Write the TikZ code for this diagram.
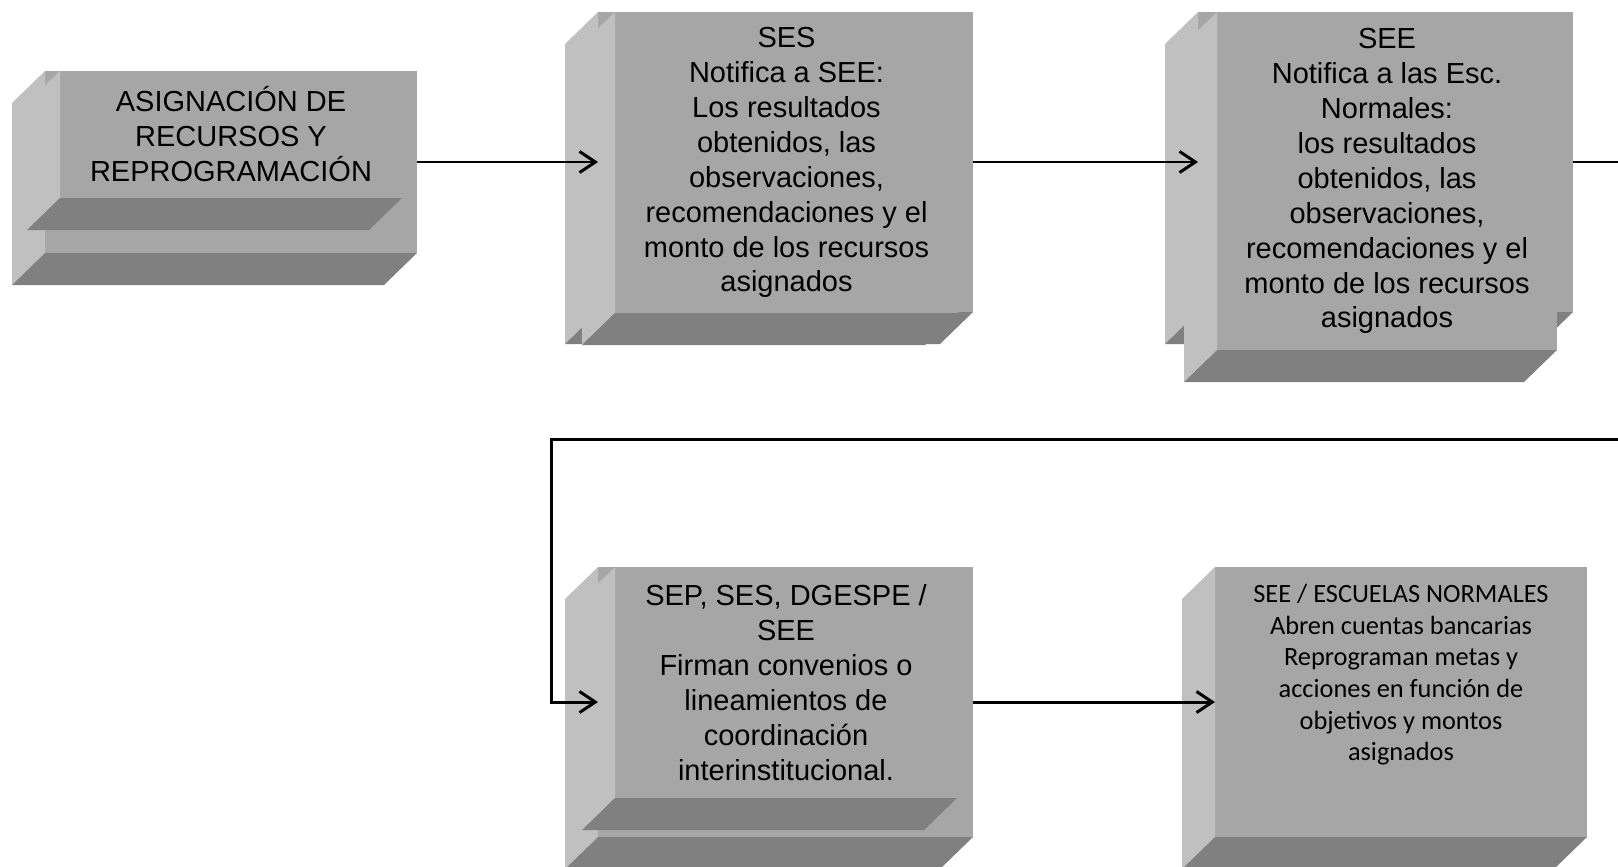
\documentclass[tikz,border=0pt]{standalone}
\usepackage{fontspec}
\setmainfont{Liberation Sans}
\newfontfamily\calibri{Carlito}
\usepackage{xcolor}
\usetikzlibrary{arrows.meta}
\usetikzlibrary{positioning}

\definecolor{gris}{HTML}{A6A6A6}
\definecolor{grisclaro}{HTML}{C0C0C0}
\definecolor{grisoscuro}{HTML}{808080}

\tikzset{
    cara/.style={fill=gris, inner sep=0pt, outer sep=0pt},
    tam/.style 2 args={minimum width=#1*0.02cm, minimum height=#2*0.02cm},
    texto/.style={align=center, font=\fontsize{16.5}{19.9}\selectfont},
    textocal/.style={align=center, inner sep=0pt, font=\calibri\fontsize{15}{18}\selectfont},
    lado/.style={fill=grisclaro},
    fondo/.style={fill=grisoscuro},
    flecha/.style={line width=1.7pt, -{Straight Barb[length=9pt, width=12pt]}}
}

\newcommand{\caras}[1]{%
    \fill[lado](#1.north west)--++(-33, 32)--([shift={(-33, 32)}]#1.south west)--(#1.south west)--cycle;
    \fill[fondo](#1.south west)--(#1.south east)--([shift={(-33, 32)}]#1.south east)--([shift={(-33, 32)}]#1.south west)--cycle;
}

\begin{document}
\begin{tikzpicture}[x=0.02cm, y=-0.02cm]
            \useasboundingbox(0, 0) rectangle (1618, 866);
            \clip(0, 0) rectangle (1618, 866);

            \node[cara, tam={372}{182}](asig) at (231, 162){};
            \caras{asig}
            \node[cara, texto, tam={342}{127}](asig-f) at (231, 134.5){ASIGNACIÓN DE\\RECURSOS Y\\REPROGRAMACIÓN};
            \caras{asig-f}

            \node[cara, tam={375}{300}](ses) at (785.5, 162){};
            \caras{ses}
            \node[cara, texto, tam={343}{301}](ses-f) at (786.5, 162.5){SES\\Notifica a SEE:\\Los resultados\\obtenidos, las\\observaciones,\\recomendaciones y el\\monto de los recursos\\asignados};
            \caras{ses-f}

            \node[cara, tam={375}{300}](see) at (1385.5, 162){};
            \caras{see}
            \node[cara, texto, tam={340}{338}](see-f) at (1387, 181){SEE\\Notifica a las Esc.\\Normales:\\los resultados\\obtenidos, las\\observaciones,\\recomendaciones y el\\monto de los recursos\\asignados};
            \caras{see-f}

            \node[cara, tam={375}{270}](sep) at (785.5, 702){};
            \caras{sep}
            \node[cara, texto, tam={342}{231}](sep-f) at (786, 682.5){SEP, SES, DGESPE /\\SEE\\Firman convenios o\\lineamientos de\\coordinación\\interinstitucional.};
            \caras{sep-f}

            \node[cara, tam={372}{270}](escn) at (1401, 702){};
            \caras{escn}
            \node[textocal, below=0.34cm of escn.north](escn-t){SEE / ESCUELAS NORMALES\\Abren cuentas bancarias\\Reprograman metas y\\acciones en función de\\objetivos y montos\\asignados};

            \draw[flecha](asig.east)--(ses.west);
            \draw[flecha](ses.east)--(see.west);
            \coordinate(giro) at (551, 439);
            \draw[flecha](see.east)--++(100, 0)|-(giro)|-(sep.west);
            \draw[flecha](sep.east)--(escn.west);

        \end{tikzpicture}
\end{document}
